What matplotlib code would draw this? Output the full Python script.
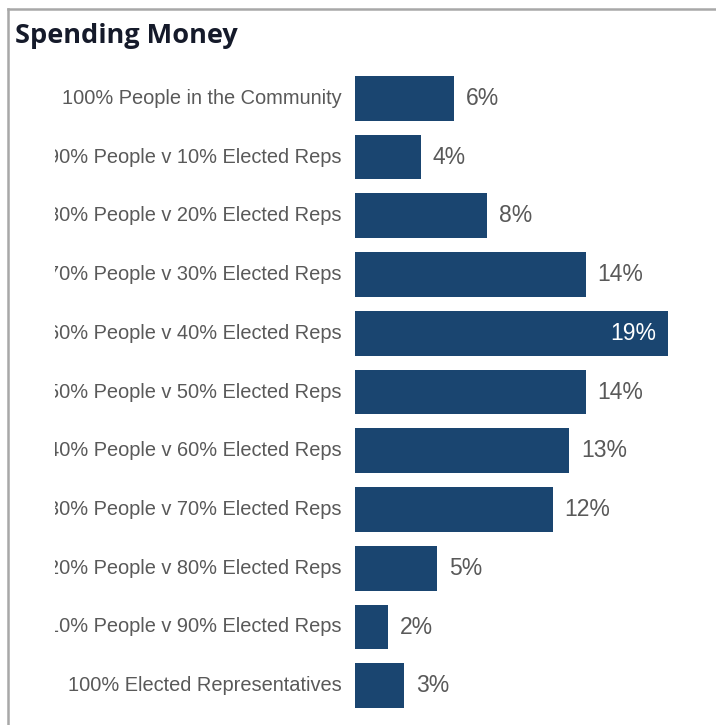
import matplotlib.pyplot as plt
from matplotlib.lines import Line2D
from matplotlib.transforms import Bbox, TransformedBbox, offset_copy

categories = [
    "100% People in the Community",
    "90% People v 10% Elected Reps",
    "80% People v 20% Elected Reps",
    "70% People v 30% Elected Reps",
    "60% People v 40% Elected Reps",
    "50% People v 50% Elected Reps",
    "40% People v 60% Elected Reps",
    "30% People v 70% Elected Reps",
    "20% People v 80% Elected Reps",
    "10% People v 90% Elected Reps",
    "100% Elected Representatives",
]
shares = [6, 4, 8, 14, 19, 14, 13, 12, 5, 2, 3]

BAR = "#1a4570"
GREY = "#595959"
W, H = 716, 725

fig = plt.figure(figsize=(W / 100, H / 100), dpi=100)
ax = fig.add_axes([355 / W, 1 - 721 / H, 1 - 355 / W, (721 - 63) / H])

ypos = list(range(len(categories)))
ax.barh(ypos, shares, height=0.76, color=BAR)
ax.set_xlim(0, 361 / 16.47)
ax.set_ylim(len(categories) - 0.4, -0.6)
ax.axis("off")

# category labels sit left of the bars, clipped at the panel edge
clip = TransformedBbox(Bbox([[55 / W, 0], [1, 1]]), fig.transFigure)
lab_tr = offset_copy(ax.get_yaxis_transform(), fig=fig, x=-13, y=0, units="dots")
for y, name in zip(ypos, categories):
    t = ax.text(0, y, name, transform=lab_tr, ha="right", va="center",
                fontsize=14.4, color=GREY, family="Liberation Sans", clip_on=True)
    t.set_clip_box(clip)

for y, v in zip(ypos, shares):
    if v == max(shares):
        tr = offset_copy(ax.transData, fig=fig, x=-12, y=0, units="dots")
        ax.text(v, y, f"{v}%", transform=tr, ha="right", va="center",
                fontsize=16.5, color="white", family="Liberation Sans")
    else:
        tr = offset_copy(ax.transData, fig=fig, x=12, y=0, units="dots")
        ax.text(v, y, f"{v}%", transform=tr, ha="left", va="center",
                fontsize=16.5, color=GREY, family="Liberation Sans")

fig.text(15 / W, 1 - 36 / H, "Spending Money", fontsize=19.5, fontweight="bold",
         family="Open Sans", color="#151a2a", va="center", ha="left")

# panel frame: top and left edges only
fig.add_artist(Line2D([8 / W, 1], [1 - 9 / H, 1 - 9 / H], transform=fig.transFigure,
                      color="#a8a8a8", lw=1.8))
fig.add_artist(Line2D([8 / W, 8 / W], [0, 1 - 9 / H], transform=fig.transFigure,
                      color="#a8a8a8", lw=1.8))

fig.savefig("out.png", dpi=100, facecolor="white")
